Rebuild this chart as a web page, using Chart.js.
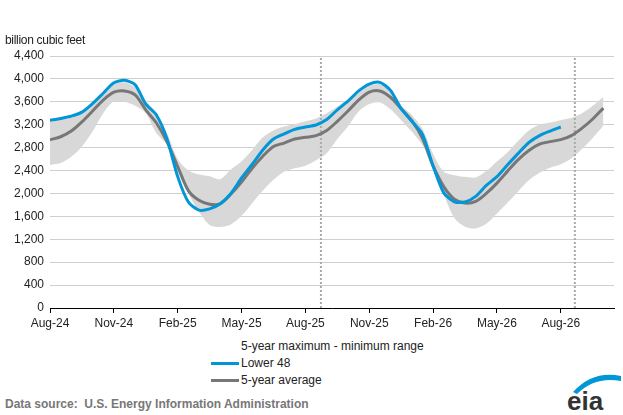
<!DOCTYPE html>
<html>
<head>
<meta charset="utf-8">
<script src="https://cdn.jsdelivr.net/npm/chart.js@4.4.1/dist/chart.umd.min.js"></script>
<style>
  body { margin:0; width:623px; height:415px; background:#fff; font-family:"Liberation Sans", Arial, sans-serif; position:relative; overflow:hidden; }
  #unit { position:absolute; left:5px; top:33px; font-size:12px; color:#222; letter-spacing:-0.3px; }
  #wrap { position:absolute; left:0; top:0; width:623px; height:335px; }
  #legend { position:absolute; left:211px; top:338px; font-size:12px; color:#222; line-height:17px; }
  #legend .sw { display:inline-block; width:28px; height:3px; vertical-align:middle; margin-right:2px; }
  #source { position:absolute; left:5px; top:397px; font-size:12px; color:#777; font-weight:bold; letter-spacing:0; }
  #logo { position:absolute; left:565px; top:370px; }
</style>
</head>
<body>
<div id="wrap"><canvas id="chart" width="623" height="335"></canvas></div>
<div id="unit">billion cubic feet</div>
<div id="legend">
  <div style="padding-left:30px">5-year maximum - minimum range</div>
  <div><span class="sw" style="background:#0096d7"></span>Lower 48</div>
  <div><span class="sw" style="background:#777"></span>5-year average</div>
</div>
<div id="source">Data source:&nbsp; U.S. Energy Information Administration</div>
<svg id="logo" width="58" height="42" viewBox="0 0 58 42">
  <path d="M8 22 Q28 0 56 6 L56 11 Q30 6 12 24 Z" fill="#0096d7"/>
  <text x="2" y="40" font-family="Liberation Sans, Arial" font-size="26" font-weight="bold" fill="#333">eia</text>
</svg>
<script>
// x positions: months since Aug 2024, one point every half month
const monthLabels = ["Aug-24","Nov-24","Feb-25","May-25","Aug-25","Nov-25","Feb-26","May-26","Aug-26"];
const forecastStarts = [12.73, 24.66];

const lower48 = [3277,3310,3350,3420,3570,3750,3932,3975,3900,3560,3370,2950,2294,1850,1709,1730,
  1820,2000,2270,2510,2760,2950,3040,3120,3160,3195,3290,3460,3610,3790,3910,3940,3800,3480,3260,3030,
  2480,2010,1855,1850,1950,2140,2294,2500,2700,2890,3010,3090,3160];
const avg5 = [2937,2990,3090,3250,3440,3630,3768,3790,3720,3460,3230,2900,2469,2050,1880,1812,
  1820,1990,2200,2440,2650,2820,2880,2950,2980,3010,3100,3260,3440,3630,3770,3790,3680,3480,3270,2960,
  2480,2120,1900,1832,1860,2000,2180,2390,2590,2750,2860,2905,2940,3010,3140,3300,3490];
const max5 = [3290,3310,3340,3430,3590,3760,3903,3940,3850,3620,3400,3050,2600,2400,2330,2300,
  2250,2420,2560,2760,2980,3100,3170,3210,3260,3310,3400,3520,3640,3790,3880,3910,3800,3540,3370,3130,
  2690,2380,2320,2290,2280,2390,2557,2720,2920,3100,3200,3240,3280,3320,3400,3530,3690];
const min5 = [2499,2530,2640,2820,3080,3400,3610,3600,3530,3400,3050,2850,2450,2000,1680,1450,
  1416,1460,1610,1830,2050,2240,2380,2440,2485,2580,2700,2950,3170,3430,3560,3590,3470,3280,3080,2840,
  2530,1990,1570,1420,1390,1470,1650,1840,2040,2230,2360,2450,2510,2610,2780,2970,3180];

const pts = arr => arr.map((v, i) => ({ x: i / 2, y: v }));
const vline = m => [{ x: m, y: 0 }, { x: m, y: 4400 }];

// higher "order" is drawn first, so the band sits under the lines
const datasets = [
  { data: pts(max5), order: 10, borderWidth: 0, pointRadius: 0, tension: 0.3, fill: "+1", backgroundColor: "#d8d8d8" },
  { data: pts(min5), order: 10, borderWidth: 0, pointRadius: 0, tension: 0.3, fill: false },
  { data: pts(avg5), order: 2, borderColor: "#777", borderWidth: 3, pointRadius: 0, tension: 0.3, fill: false },
  { data: pts(lower48), order: 1, borderColor: "#0096d7", borderWidth: 3, pointRadius: 0, tension: 0.25, fill: false }
];
forecastStarts.forEach(m => datasets.push({
  data: vline(m), order: 5, borderColor: "#aaa", borderWidth: 2, borderDash: [2, 2], pointRadius: 0, fill: false
}));

new Chart(document.getElementById("chart"), {
  type: "line",
  data: { datasets },
  options: {
    responsive: false,
    animation: false,
    layout: { padding: { top: 56, right: 9, left: 0, bottom: 0 } },
    plugins: { legend: { display: false }, tooltip: { enabled: false } },
    scales: {
      x: {
        type: "linear", min: 0, max: 26.5,
        afterBuildTicks: s => { s.ticks = monthLabels.map((l, i) => ({ value: i * 3 })); },
        afterFit: s => { s.height = 27; },
        ticks: { callback: (v) => monthLabels[v / 3], color: "#222", font: { family: "Liberation Sans", size: 12 }, padding: 3, maxRotation: 0 },
        grid: { drawOnChartArea: false, tickLength: 5, color: "#000" },
        border: { color: "#000", width: 1 }
      },
      y: {
        min: 0, max: 4400,
        afterFit: s => { s.width = 50; },
        ticks: { stepSize: 400, callback: v => v.toLocaleString("en-US"), color: "#222", font: { family: "Liberation Sans", size: 12 }, padding: 6 },
        grid: { color: "#cfcfcf", tickLength: 0 },
        border: { display: false }
      }
    }
  }
});
</script>
</body>
</html>
